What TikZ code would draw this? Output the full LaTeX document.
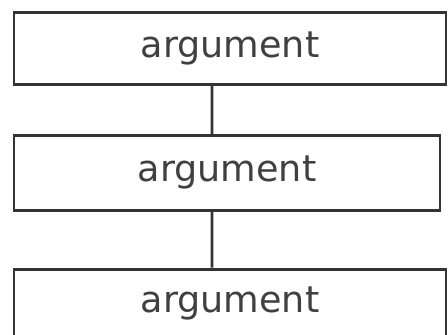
\documentclass[tikz,border=0pt]{standalone}
\usepackage{fontspec}
\setmainfont{DejaVu Sans}
\usetikzlibrary{positioning}
\definecolor{SketchInk}{HTML}{333333}
\definecolor{SketchText}{HTML}{404040}
\begin{document}
\begin{tikzpicture}[
        box/.style={draw=SketchInk,line width=2pt,minimum width=10.8cm,
          minimum height=1.8cm,inner sep=0pt,text=SketchText,
          font=\fontsize{26}{30}\selectfont},
        link/.style={SketchInk,line width=1.8pt}
      ]
        \useasboundingbox (0,0) rectangle (11.2,-8.375);
        \node[box] (argtop) at (5.75,-1.2125) {argument};
        \node[box,minimum width=10.65cm,minimum height=1.875cm,below=1.2cm of argtop.south,anchor=north,xshift=-0.075cm] (argmid) {argument};
        \node[box,minimum height=1.725cm,below=1.4cm of argmid.south,anchor=north,xshift=0.075cm] (argbot) {argument};
        \draw[link] ([xshift=-0.45cm]argtop.south) -- ([xshift=-0.375cm]argmid.north);
        \draw[link] ([xshift=-0.375cm]argmid.south) -- ([xshift=-0.45cm]argbot.north);
      \end{tikzpicture}
\end{document}
